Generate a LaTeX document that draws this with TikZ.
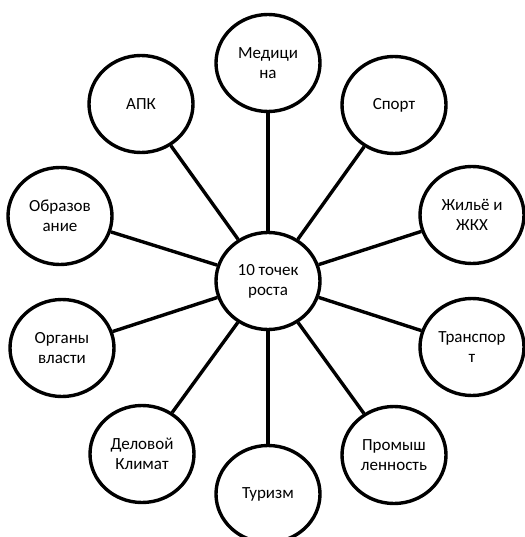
\documentclass[tikz,border=0pt]{standalone}
\usepackage{fontspec}
\setmainfont{Carlito}
\usetikzlibrary{shapes.geometric}
\begin{document}
\begin{tikzpicture}[x=1pt,y=-1pt,
  bubble/.style={ellipse,draw=black,line width=3.4pt,fill=white,minimum width=104pt,minimum height=97pt,inner sep=0pt,align=center,font=\fontsize{17}{20}\selectfont},
  spoke/.style={line width=3.4pt,black}]
\fill[white] (0,0) rectangle (524,537);
\useasboundingbox (0,0) rectangle (524,537);
\node[bubble] (c) at (268,281) {10 точек\\роста};
\node[bubble] (med) at (268,63) {Медици\\на};
\node[bubble] (sport) at (394,105) {Спорт};
\node[bubble] (zhk) at (472,215) {Жильё и\\ЖКХ};
\node[bubble] (trans) at (472,347) {Транспор\\т};
\node[bubble] (prom) at (394,455) {Промыш\\ленность};
\node[bubble] (tur) at (268,494) {Туризм};
\node[bubble] (del) at (142,454) {Деловой\\Климат};
\node[bubble] (org) at (62,348) {Органы\\власти};
\node[bubble] (obr) at (60,216) {Образов\\ание};
\node[bubble] (apk) at (141,104) {АПК};
\foreach \n in {med,sport,zhk,trans,prom,tur,del,org,obr,apk}
  \draw[spoke] (c) -- (\n);
\end{tikzpicture}
\end{document}
